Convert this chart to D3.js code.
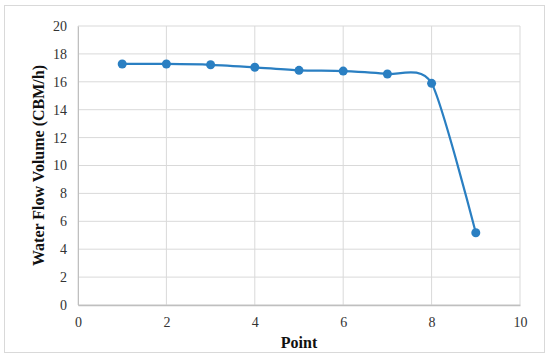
<!DOCTYPE html>
<html>
<head>
<meta charset="utf-8">
<script src="https://cdn.jsdelivr.net/npm/d3@7"></script>
<style>
  body { margin: 0; background: #fff; }
  .axis-title { font-family: "Liberation Serif", serif; font-size: 16px; font-weight: bold; fill: #111; }
</style>
</head>
<body>
<svg id="chart" width="550" height="358"></svg>
<script>
// Data
const points = [1, 2, 3, 4, 5, 6, 7, 8, 9];
const flowVolume = [17.28, 17.28, 17.22, 17.04, 16.82, 16.77, 16.56, 15.89, 5.18];
const xTicks = [0, 2, 4, 6, 8, 10];
const yTicks = [0, 2, 4, 6, 8, 10, 12, 14, 16, 18, 20];

const svg = d3.select('#chart');
const margin = { left: 78, right: 30, top: 26, bottom: 53 };
const width = 550, height = 358;
const innerWidth = width - margin.left - margin.right;
const innerHeight = height - margin.top - margin.bottom;

// Outer frame
svg.append('rect')
    .attr('x', 4.5).attr('y', 5.5)
    .attr('width', 540).attr('height', 347)
    .attr('fill', '#fff')
    .attr('stroke', '#d9d9d9');

const g = svg.append('g')
    .attr('transform', `translate(${margin.left},${margin.top})`);

// Scales
const xScale = d3.scaleLinear().domain([0, 10]).range([0, innerWidth]);
const yScale = d3.scaleLinear().domain([0, 20]).range([innerHeight, 0]);

// Grid
yTicks.forEach(t => {
    g.append('line')
        .attr('x1', 0).attr('x2', innerWidth)
        .attr('y1', yScale(t)).attr('y2', yScale(t))
        .attr('stroke', '#d9d9d9');
});
xTicks.forEach(t => {
    g.append('line')
        .attr('x1', xScale(t)).attr('x2', xScale(t))
        .attr('y1', 0).attr('y2', innerHeight)
        .attr('stroke', '#d9d9d9');
});

// Axes
const styleTicks = s => s.selectAll('.tick text')
    .style('font-family', '"Liberation Serif", "Times New Roman", serif')
    .style('font-size', '14px')
    .attr('fill', '#333');

const xAxis = g.append('g')
    .attr('transform', `translate(0,${innerHeight})`)
    .call(d3.axisBottom(xScale).tickValues(xTicks).tickSize(0).tickPadding(12))
    .call(styleTicks);
xAxis.select('.domain').attr('stroke', '#bfbfbf').attr('stroke-width', 1.5);

const yAxis = g.append('g')
    .call(d3.axisLeft(yScale).tickValues(yTicks).tickSize(0).tickPadding(11))
    .call(styleTicks);
yAxis.select('.domain').attr('stroke', '#bfbfbf');

// Axis titles
g.append('text')
    .attr('class', 'axis-title')
    .attr('x', xScale(5))
    .attr('y', innerHeight + 43)
    .attr('text-anchor', 'middle')
    .text('Point');

g.append('text')
    .attr('class', 'axis-title')
    .attr('transform', 'rotate(-90)')
    .attr('x', -innerHeight / 2)
    .attr('y', -34)
    .attr('text-anchor', 'middle')
    .text('Water Flow Volume (CBM/h)');

// Line
const data = points.map((p, i) => ({ x: p, y: flowVolume[i] }));
const line = d3.line()
    .x(d => xScale(d.x))
    .y(d => yScale(d.y))
    .curve(d3.curveCardinal.tension(0.3));

g.append('path')
    .datum(data)
    .attr('d', line)
    .attr('fill', 'none')
    .attr('stroke', '#2a7fc2')
    .attr('stroke-width', 2.2);

g.selectAll('circle.pt')
    .data(data)
    .join('circle')
    .attr('class', 'pt')
    .attr('cx', d => xScale(d.x))
    .attr('cy', d => yScale(d.y))
    .attr('r', 4.5)
    .attr('fill', '#2a7fc2');
</script>
</body>
</html>
